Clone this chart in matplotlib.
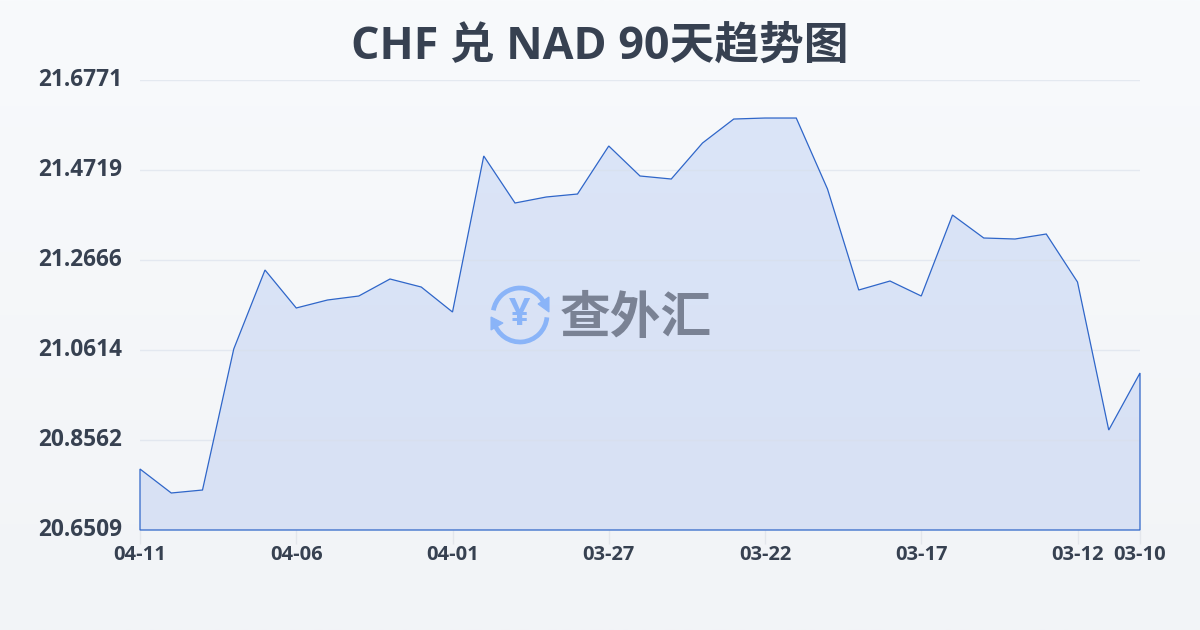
import numpy as np
import matplotlib.pyplot as plt
import matplotlib as mpl
from matplotlib.patches import Arc, Polygon
from matplotlib.transforms import ScaledTranslation

mpl.rcParams["font.family"] = ["Open Sans", "Noto Sans CJK SC", "DejaVu Sans"]

W, H = 1200, 630

TITLE = "CHF 兑 NAD 90天趋势图"
WATERMARK = "查外汇"

# newest date first, one point per day
rates = [20.7900, 20.7353, 20.7421, 21.0637, 21.2438, 21.1572, 21.1754, 21.1845,
         21.2233, 21.2050, 21.1480, 21.5038, 21.3966, 21.4103, 21.4171, 21.5266,
         21.4582, 21.4513, 21.5334, 21.5881, 21.5904, 21.5904, 21.4285, 21.1982,
         21.2187, 21.1845, 21.3692, 21.3168, 21.3145, 21.3259, 21.2164, 20.8789,
         21.0089]
x_tick_pos = [0, 5, 10, 15, 20, 25, 30, 32]
x_tick_labels = ["04-11", "04-06", "04-01", "03-27", "03-22", "03-17", "03-12", "03-10"]
y_ticks = [20.6509, 20.8562, 21.0614, 21.2666, 21.4719, 21.6771]
y_tick_labels = ["20.6509", "20.8562", "21.0614", "21.2666", "21.4719", "21.6771"]

TEXT = "#374151"
LINE = "#2f66c9"
GRID = "#e3e6ec"
LOGO = "#8ab4f8"

fig = plt.figure(figsize=(W / 100, H / 100), dpi=100)

# page background, top to bottom
bg = fig.add_axes([0, 0, 1, 1], zorder=0)
bg.imshow(np.linspace(0, 1, 256)[:, None], aspect="auto", extent=(0, 1, 0, 1),
          cmap=mpl.colors.LinearSegmentedColormap.from_list("bg", ["#f8fafc", "#f2f4f7"]))
bg.axis("off")

ax = fig.add_axes([140 / W, 1 - 530 / H, 1000 / W, 450 / H], zorder=1)
ax.patch.set_visible(False)
x = np.arange(len(rates))
ax.set_xlim(0, len(rates) - 1)
ax.set_ylim(y_ticks[0], y_ticks[-1])

# filled area with a slight vertical gradient, clipped to the series
poly = Polygon(np.column_stack([np.r_[x[0], x, x[-1]],
                                np.r_[y_ticks[0], rates, y_ticks[0]]]),
               closed=True, fc="none", ec=LINE, lw=0.9, zorder=3, clip_on=False)
ax.add_patch(poly)
grad = ax.imshow(np.linspace(0, 1, 256)[:, None], aspect="auto",
                 extent=(0, len(rates) - 1, y_ticks[0], y_ticks[-1]), zorder=1,
                 cmap=mpl.colors.LinearSegmentedColormap.from_list("fill", ["#dbe5f8", "#d8e1f4"]))
grad.set_clip_path(poly)

ax.set_yticks(y_ticks)
ax.set_yticklabels(y_tick_labels, fontsize=16.3, fontweight="bold", color=TEXT)
ax.set_xticks(x_tick_pos)
ax.set_xticklabels(x_tick_labels, fontsize=14.5, fontweight="bold", color=TEXT)
ax.tick_params(axis="y", length=0, pad=13)
ax.tick_params(axis="x", length=10, width=1, color=GRID, pad=1)
ax.grid(axis="y", color="#d8dfea", lw=1, alpha=0.6, zorder=2)
ax.set_axisbelow(False)
for s in ax.spines.values():
    s.set_visible(False)
for gl in ax.get_ygridlines():
    gl.set_zorder(2)

# y labels sit a little above their grid lines
lift = ScaledTranslation(0, 2 / 72, fig.dpi_scale_trans)
for lab in ax.get_yticklabels():
    lab.set_transform(lab.get_transform() + lift)

fig.text(600 / W, 1 - 47.5 / H, TITLE, ha="center", va="center",
         fontsize=32.2, fontweight="bold", color="#374151")

# watermark logo, in pixel coordinates
ov = fig.add_axes([0, 0, 1, 1], zorder=4)
ov.set_xlim(0, W)
ov.set_ylim(H, 0)
ov.axis("off")
ov.patch.set_visible(False)
cx, cy, d = 520, 315, 54
ov.add_patch(Arc((cx, cy), d, d, theta1=5, theta2=165, color=LOGO, lw=3.4))
ov.add_patch(Arc((cx, cy), d, d, theta1=190, theta2=335, color=LOGO, lw=3.4))
ov.add_patch(Polygon([[538, 304], [549, 297], [549, 312]], fc=LOGO, ec=LOGO, lw=0.8))
ov.add_patch(Polygon([[491, 317], [491, 330], [503, 323]], fc=LOGO, ec=LOGO, lw=0.8))
ov.text(cx, cy, "¥", ha="center", va="center", fontsize=27, fontweight="bold", color=LOGO)
ov.text(636, 319, WATERMARK, ha="center", va="center", fontsize=36.5,
        fontweight="black", color="#7a8294", family=["Noto Sans CJK SC"])

fig.savefig("out.png", dpi=100)
